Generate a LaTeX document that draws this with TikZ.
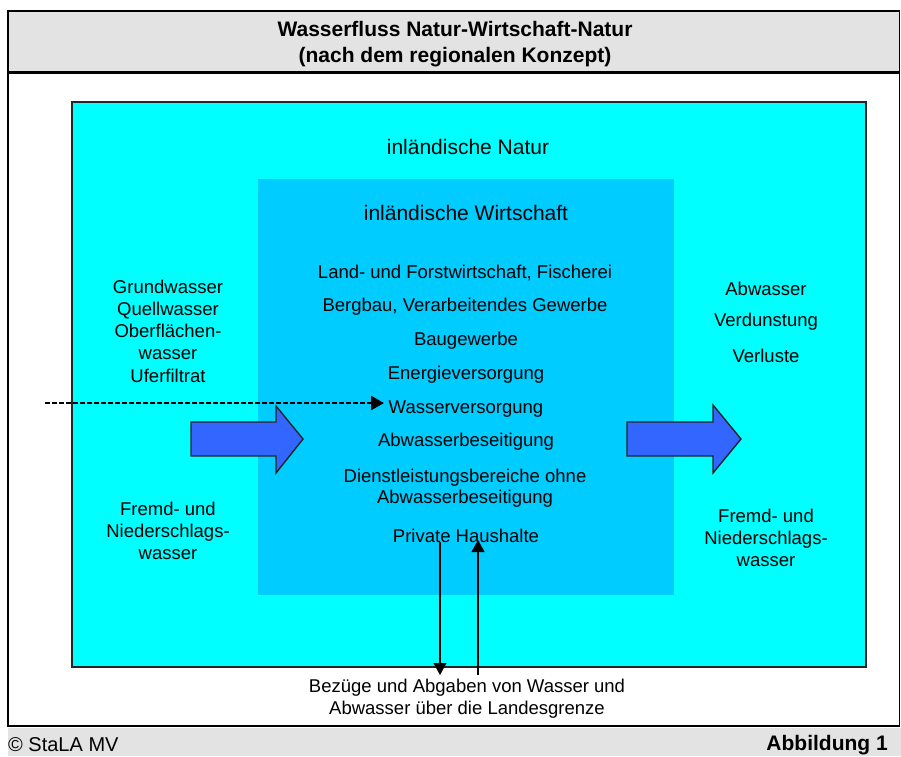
\documentclass[tikz,border=0pt]{standalone}
\usepackage{fontspec}
\setmainfont{Liberation Sans}
\usetikzlibrary{arrows.meta}
\definecolor{hdrgray}{HTML}{E3E3E3}
\definecolor{natcyan}{HTML}{00FFFF}
\definecolor{wirtblue}{HTML}{00CCFF}
\definecolor{arrowblue}{HTML}{3366FF}
\tikzset{
  frame/.style={draw=black,line width=1.2pt},
  titletext/.style={font=\fontsize{21}{26}\selectfont\bfseries,align=center,inner sep=0pt},
  bigtext/.style={font=\fontsize{21}{25}\selectfont,inner sep=0pt},
  itemtext/.style={font=\fontsize{18.5}{21}\selectfont,align=center,inner sep=0pt},
  sidetext/.style={font=\fontsize{18.5}{22.3}\selectfont,align=center,inner sep=0pt},
  blockarrow/.style={fill=arrowblue,draw=black!85,line width=1.4pt,line join=miter},
  dasharrow/.style={draw=black,line width=2.6pt,dash pattern=on 5pt off 2pt,-{Triangle[length=13pt,width=14pt]}},
  thinarrow/.style={draw=black,line width=1.1pt,-{Triangle[length=12pt,width=13pt]}}
}
\begin{document}
\begin{tikzpicture}[x=1pt,y=-1pt]
\useasboundingbox (0,0) rectangle (901,756);
\fill[white] (0,0) rectangle (901,756);
% header
\filldraw[frame,fill=hdrgray] (8,11) rectangle (899.5,72);
\node[titletext] (title) at (455,44) {Wasserfluss Natur-Wirtschaft-Natur\\(nach dem regionalen Konzept)};
% body frame
\draw[frame] (8,73.5) rectangle (899.5,726);
% footer
\fill[hdrgray] (8,727.5) rectangle (901,756);
\node[anchor=west,font=\fontsize{20}{24}\selectfont,inner sep=0pt] (copy) at (8,745) {© StaLA MV};
\node[anchor=east,font=\fontsize{21}{25}\selectfont\bfseries,inner sep=0pt] (abb) at (888,745) {Abbildung 1};
% nature box
\filldraw[fill=natcyan,draw=black!85,line width=1.2pt] (72,102) rectangle (866,667);
% economy box
\fill[wirtblue] (258,179) rectangle (674,595);
\node[bigtext] (natur) at (468,147) {inländische Natur};
\node[bigtext] (wirt) at (466,213) {inländische Wirtschaft};
% items
\node[itemtext] (i1) at (465,273) {Land- und Forstwirtschaft, Fischerei};
\node[itemtext] (i2) at (465,307) {Bergbau, Verarbeitendes Gewerbe};
\node[itemtext] (i3) at (466,341) {Baugewerbe};
\node[itemtext] (i4) at (466,375) {Energieversorgung};
\node[itemtext] (i5) at (466,409) {Wasserversorgung};
\node[itemtext] (i6) at (466,442) {Abwasserbeseitigung};
\node[itemtext] (i7) at (465,488) {Dienstleistungsbereiche ohne\\Abwasserbeseitigung};
\node[itemtext] (i8) at (466,536) {Private Haushalte};
% left texts
\node[sidetext] (lin) at (168,331) {Grundwasser\\Quellwasser\\Oberflächen-\\wasser\\Uferfiltrat};
\node[sidetext] (lfr) at (168,531) {Fremd- und\\Niederschlags-\\wasser};
% right texts
\node[itemtext] (r1) at (766,289) {Abwasser};
\node[itemtext] (r2) at (766,322) {Verdunstung};
\node[itemtext] (r3) at (766,356) {Verluste};
\node[sidetext] (rfr) at (766,538) {Fremd- und\\Niederschlags-\\wasser};
% bottom text
\node[sidetext] (border) at (467,699) {Bezüge und Abgaben von Wasser und\\Abwasser über die Landesgrenze};
% block arrows
\filldraw[blockarrow] (191,422) -- (276,422) -- (276,406) -- (303,439) -- (276,473) -- (276,456) -- (191,456) -- cycle;
\filldraw[blockarrow] (627,422) -- (713,422) -- (713,405) -- (741,439) -- (713,473) -- (713,456) -- (627,456) -- cycle;
% dashed arrow
\coordinate (dstart) at (45,403);
\coordinate (dend) at (384,403);
\draw[dasharrow] (dstart) -- (dend);
% vertical arrows
\coordinate (downstart) at (440,542);
\coordinate (downend) at (440,675);
\coordinate (upstart) at (478,675);
\coordinate (upend) at (478,540);
\draw[thinarrow] (downstart) -- (downend);
\draw[thinarrow] (upstart) -- (upend);
\end{tikzpicture}
\end{document}
